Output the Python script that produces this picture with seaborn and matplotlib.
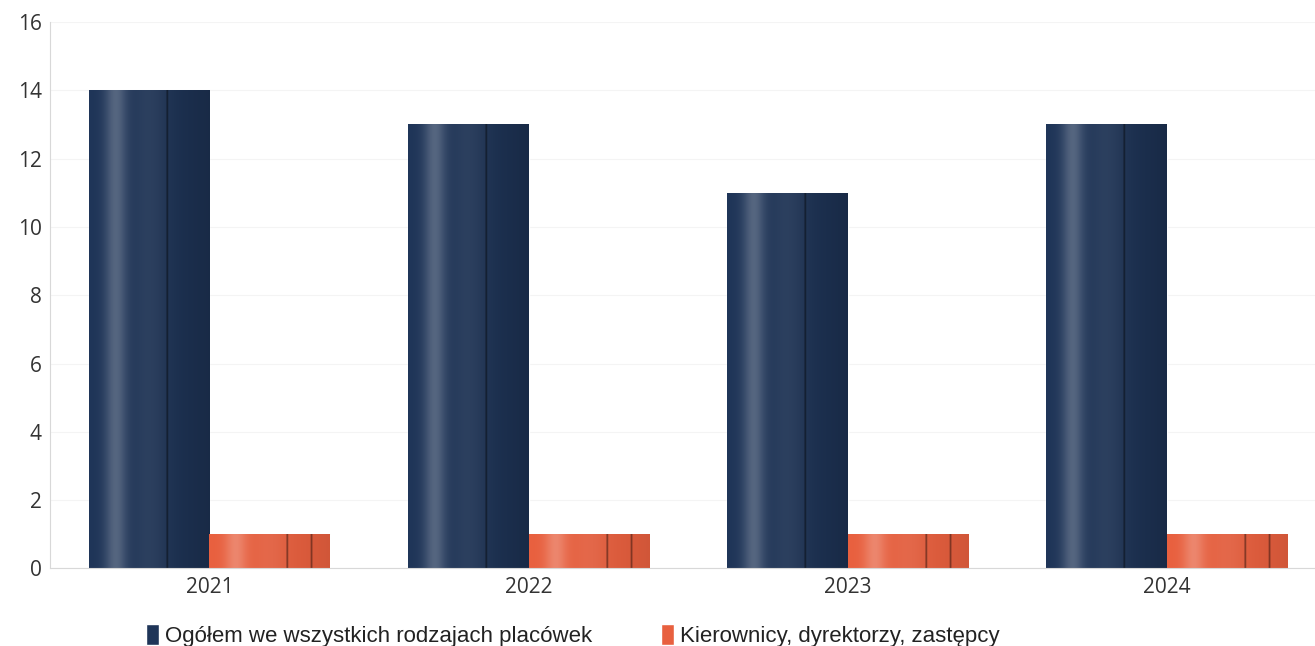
import numpy as np
import pandas as pd
import matplotlib.pyplot as plt
import matplotlib.colors as mcolors
import seaborn as sns

years = ["2021", "2022", "2023", "2024"]
series_names = ["Ogółem we wszystkich rodzajach placówek", "Kierownicy, dyrektorzy, zastępcy"]
ogolem = [14, 13, 11, 13]
kierownicy = [1, 1, 1, 1]
colors = ["#1f3558", "#e8603f"]

df = pd.DataFrame({
    "rok": years * 2,
    "seria": [series_names[0]] * 4 + [series_names[1]] * 4,
    "wartosc": ogolem + kierownicy,
})

sns.set_style("white")
plt.rcParams["font.family"] = ["Open Sans", "DejaVu Sans"]

fig, ax = plt.subplots(figsize=(13.15, 6.46), dpi=100)
fig.subplots_adjust(left=0.038, right=1.0, top=0.966, bottom=0.12)

sns.barplot(data=df, x="rok", y="wartosc", hue="seria", palette=colors,
            width=0.755, saturation=1, ax=ax, legend=True)


def shade(base, stripes, darken):
    # cylinder-like horizontal gradient across the bar
    rgb = np.array(mcolors.to_rgb(base))
    t = np.linspace(0, 1, 200)
    light = 0.3 * np.exp(-((t - 0.22) / 0.09) ** 2) + 0.08 * np.exp(-((t - 0.5) / 0.15) ** 2)
    dark = darken * t ** 2
    cols = np.clip(rgb[None, :] * (1 - dark[:, None]) + light[:, None] * (1 - rgb[None, :]) * 0.8, 0, 1)
    for s in stripes:
        m = np.abs(t - s) < 0.008
        cols[m] = cols[m] * 0.6
    return cols[None, :, :]


grads = [shade(colors[0], [0.65], 0.2), shade(colors[1], [0.65, 0.85], 0.1)]
for i, cont in enumerate(ax.containers):
    for p in cont.patches:
        x, w, h = p.get_x(), p.get_width(), p.get_height()
        im = ax.imshow(grads[i], extent=[x, x + w, 0, h], aspect="auto",
                       zorder=p.get_zorder() + 0.1, interpolation="bilinear")
        im.set_clip_path(p)

ax.set_xlim(-0.5, 3.465)
ax.set_ylim(0, 16)
ax.set_yticks(range(0, 17, 2))
ax.grid(axis="y", color="#f4f4f4", linewidth=0.8)
ax.set_axisbelow(True)
ax.set_xlabel("")
ax.set_ylabel("")
for side in ["top", "right"]:
    ax.spines[side].set_visible(False)
ax.spines["left"].set_color("#d8d8d8")
ax.spines["bottom"].set_color("#d8d8d8")
ax.tick_params(axis="both", length=0, labelsize=15, colors="#333333", pad=6)

ax.legend(loc="upper left", bbox_to_anchor=(0.06, -0.065), ncol=2, frameon=False,
          prop={"family": "Liberation Sans", "size": 16}, handlelength=0.6,
          handleheight=1.1, handletextpad=0.25, columnspacing=3.1, labelcolor="#222222")

plt.savefig("out.png", dpi=100)
